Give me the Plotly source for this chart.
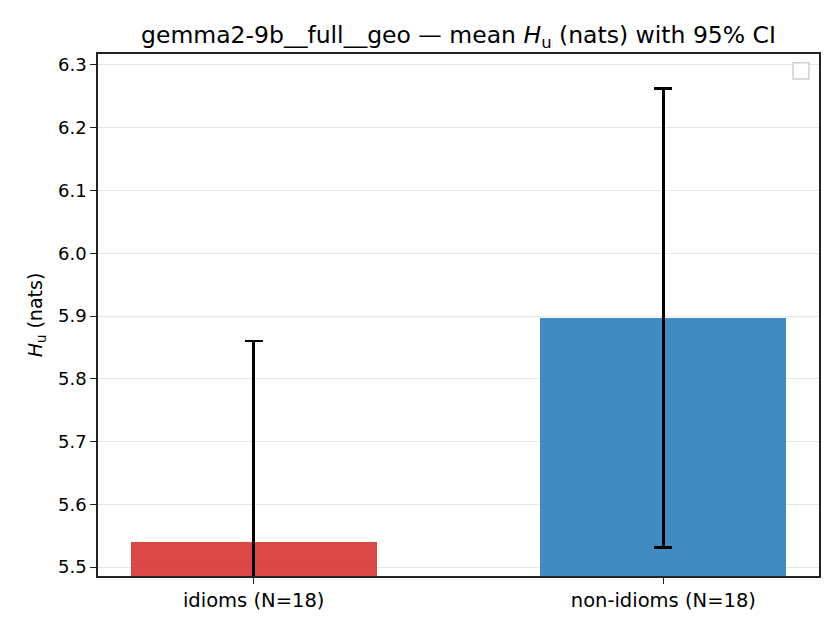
import plotly.graph_objects as go

# ── data ──
categories = ["idioms (N=18)", "non-idioms (N=18)"]
mean_hu = [5.540, 5.897]
ci_half = [0.320, 0.366]
bar_colors = ["rgba(214,39,40,0.85)", "rgba(31,119,180,0.85)"]

y_ticks = [5.5, 5.6, 5.7, 5.8, 5.9, 6.0, 6.1, 6.2, 6.3]

font = "DejaVu Sans"

fig = go.Figure()
fig.add_trace(go.Bar(
    x=[0, 1],
    y=mean_hu,
    width=0.6,
    marker=dict(color=bar_colors, line=dict(width=0)),
    error_y=dict(type="data", array=ci_half, visible=True,
                 color="black", thickness=2.6, width=9),
    showlegend=False,
))

# the page body adds ~8px, margins are trimmed to compensate
fig.update_layout(
    width=840, height=630,
    margin=dict(l=90, r=29, t=46, b=62),
    paper_bgcolor="white", plot_bgcolor="white",
    font=dict(family=font, size=18, color="black"),
    title=dict(text="gemma2-9b__full__geo — mean <i>H</i><sub>u</sub> (nats) with 95% CI",
               xref="paper", x=0.5, xanchor="center", y=0.957, yanchor="middle",
               font=dict(size=23.5, family=font, color="black")),
    bargap=0,
)

fig.update_xaxes(
    range=[-0.38, 1.38],
    tickmode="array", tickvals=[0, 1], ticktext=categories,
    ticks="outside", ticklen=6, tickwidth=1.4, tickcolor="#222",
    showline=True, linecolor="#222", linewidth=1.5, mirror=True,
    showgrid=False, zeroline=False,
    tickfont=dict(size=19.5),
)
fig.update_yaxes(
    range=[5.4857, 6.3175],
    tickmode="array", tickvals=y_ticks, ticktext=[f"{v:.1f}" for v in y_ticks],
    ticks="outside", ticklen=6, tickwidth=1.4, tickcolor="#222",
    showline=True, linecolor="#222", linewidth=1.5, mirror=True,
    showgrid=True, gridcolor="#e6e6e6", gridwidth=1.2, zeroline=False,
    tickfont=dict(size=18),
    title=dict(text="<i>H</i><sub>u</sub> (nats)", standoff=10, font=dict(size=19)),
)

# empty legend box, top-right corner
fig.add_shape(type="rect", xref="paper", yref="paper",
              x0=0.964, x1=0.986, y0=0.952, y1=0.983,
              line=dict(color="#d0d0d0", width=1.5), fillcolor="white")

fig.write_html("out.html")
